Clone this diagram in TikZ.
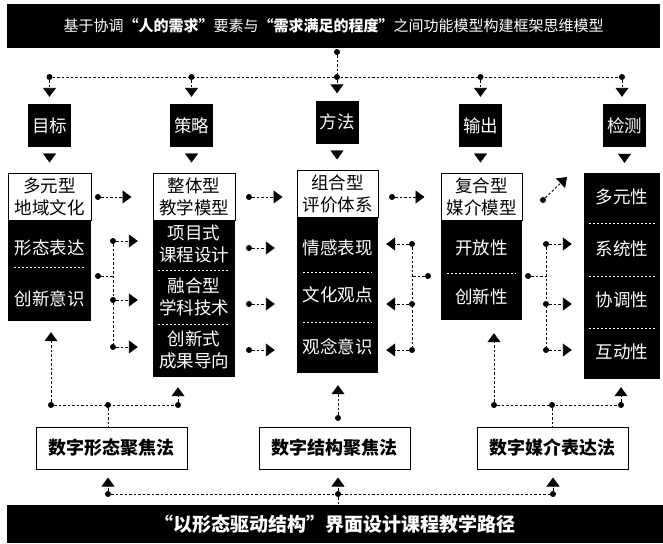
\documentclass[tikz,border=0pt]{standalone}
\usepackage{fontspec}
\newfontfamily\cjk{Noto Sans CJK SC}
\usetikzlibrary{arrows.meta}
\tikzset{
  link/.style={line width=0.9pt, dash pattern=on 2.5pt off 2pt},
  arr/.style={-{Triangle[width=13pt,length=9pt]}},
  jdot/.style={circle, fill=black, inner sep=0pt, minimum size=6pt},
  banner/.style={fill=black, text=white, inner sep=0pt},
  headbox/.style={fill=black, text=white, inner sep=0pt, minimum width=43pt, minimum height=43pt, font=\cjk\fontsize{17.5}{20}\selectfont},
  topbox/.style={draw=black, line width=1pt, fill=white, inner sep=0pt, align=center, minimum height=47pt, font=\cjk\fontsize{17.5}{22}\selectfont},
  blkbox/.style={fill=black, inner sep=0pt},
  celltext/.style={text=white, inner sep=0pt, align=center, font=\cjk\fontsize{17.5}{22}\selectfont},
  sepline/.style={white, line width=0.8pt, dash pattern=on 2pt off 2pt},
  methodbox/.style={draw=black, line width=1pt, fill=white, minimum width=151pt, minimum height=42pt, inner sep=0pt, font=\cjk\bfseries\fontsize{18}{22}\selectfont}
}
\begin{document}
\begin{tikzpicture}[x=1pt, y=-1pt]
  \useasboundingbox (0,0) rectangle (663,543);
  % Title banner
  \node[banner, minimum width=653pt, minimum height=44pt, font=\cjk\fontsize{15}{18}\selectfont] (top) at (333.5,26) {基于协调{\bfseries “人的需求”}要素与{\bfseries “需求满足的程度”}之间功能模型构建框架思维模型};
  \node[jdot] (t0) at (337,52) {};
  % Headers
  \node[headbox] (h1) at (49.5,125.5) {目标};
  \node[headbox] (h2) at (191.5,125.5) {策略};
  \node[headbox] (h3) at (337,122) {方法};
  \node[headbox] (h4) at (480.5,125.5) {输出};
  \node[headbox] (h5) at (624.5,125.5) {检测};
  \node[jdot] (t1) at (49.5,77) {};
  \node[jdot] (t2) at (191.5,77) {};
  \node[jdot] (t3) at (337,77) {};
  \node[jdot] (t4) at (480.5,77) {};
  \node[jdot] (t5) at (622,77) {};
  \draw[link] (t0) -- (t3);
  \draw[link] (t1) -- (t5);
  \foreach \i in {1,...,5}
    \draw[link, arr, shorten >=7pt] (t\i) -- (t\i |- h\i.north);
  % Column 1
  \node[topbox, minimum width=83pt] (k1) at (49.5,196.5) {多元型\\地域文化};
  \node[blkbox, minimum width=83pt, minimum height=101pt] (b1) at (49.5,270.5) {};
  \node[celltext] (b1a) at (49.5,248) {形态表达};
  \node[celltext] (b1b) at (49.5,299) {创新意识};
  \draw[sepline] (14,267) -- (85,267);
  % Column 2
  \node[topbox, minimum width=82pt] (k2) at (194,196.5) {整体型\\教学模型};
  \node[blkbox, minimum width=82pt, minimum height=157pt] (b2) at (194,298.5) {};
  \node[celltext] (b2a) at (194,244) {项目式\\课程设计};
  \node[celltext] (b2b) at (194,297) {融合型\\学科技术};
  \node[celltext] (b2c) at (194,350) {创新式\\成果导向};
  \draw[sepline] (158,270) -- (230,270);
  \draw[sepline] (158,324) -- (230,324);
  % Column 3
  \node[topbox, minimum width=81pt] (k3) at (337.5,193.5) {组合型\\评价体系};
  \node[blkbox, minimum width=81pt, minimum height=156pt] (b3) at (337.5,295) {};
  \node[celltext] (b3a) at (337.5,248) {情感表现};
  \node[celltext] (b3b) at (337.5,295) {文化观点};
  \node[celltext] (b3c) at (337.5,347) {观念意识};
  \draw[sepline] (303,272) -- (372,272);
  \draw[sepline] (303,322) -- (372,322);
  % Column 4
  \node[topbox, minimum width=81pt] (k4) at (481.5,196.5) {复合型\\媒介模型};
  \node[blkbox, minimum width=81pt, minimum height=100pt] (b4) at (481.5,270) {};
  \node[celltext] (b4a) at (481.5,248) {开放性};
  \node[celltext] (b4b) at (481.5,297) {创新性};
  \draw[sepline] (447,273) -- (516,273);
  % Column 5
  \node[blkbox, minimum width=76pt, minimum height=206pt] (b5) at (622,276) {};
  \node[celltext] (b5a) at (622,197) {多元性};
  \node[celltext] (b5b) at (622,249) {系统性};
  \node[celltext] (b5c) at (622,300) {协调性};
  \node[celltext] (b5d) at (622,352) {互动性};
  \draw[sepline] (589,223) -- (656,223);
  \draw[sepline] (589,276) -- (656,276);
  \draw[sepline] (589,328) -- (656,328);
  % Header to column
  \draw[arr, shorten <=8pt, shorten >=10pt] (h1) -- (h1.south |- k1.north);
  \draw[arr, shorten <=8pt, shorten >=10pt] (h2) -- (h2.south |- k2.north);
  \draw[arr, shorten <=8pt, shorten >=10pt] (h3) -- (h3.south |- k3.north);
  \draw[arr, shorten <=8pt, shorten >=10pt] (h4) -- (h4.south |- k4.north);
  \draw[arr, shorten <=8pt, shorten >=10pt] (h5) -- (h5.south |- b5.north);
  % Column 1 to column 2
  \node[jdot] (r1) at (98,197) {};
  \draw[link, arr, shorten >=21pt] (r1) -- (r1 -| k2.west);
  \node[jdot] (r2) at (98,276) {};
  \coordinate (j1) at (113,276);
  \node[jdot] (s1) at (113,241) {};
  \node[jdot] (s2) at (113,300) {};
  \node[jdot] (s3) at (113,347) {};
  \draw[link] (r2) -- (j1);
  \draw[link] (s1) -- (s3);
  \foreach \n in {s1,s2,s3}
    \draw[link, arr, shorten >=15pt] (\n) -- (\n -| b2.west);
  % Column 2 to column 3
  \node[jdot] (u0) at (249,197) {};
  \node[jdot] (u1) at (249,248) {};
  \node[jdot] (u2) at (249,304) {};
  \node[jdot] (u3) at (249,350) {};
  \draw[link, arr, shorten >=14pt] (u0) -- (u0 -| k3.west);
  \foreach \n in {u1,u2,u3}
    \draw[link, arr, shorten >=22pt] (\n) -- (\n -| b3.west);
  % Column 3 to column 4
  \node[jdot] (v0) at (392,197) {};
  \draw[link, arr, shorten >=16pt] (v0) -- (v0 -| k4.west);
  % Column 4 back to column 3
  \node[jdot] (w0) at (428,276) {};
  \coordinate (jw) at (412,276);
  \node[jdot] (w1) at (412,244) {};
  \node[jdot] (w2) at (412,304) {};
  \node[jdot] (w3) at (412,350) {};
  \draw[link] (w0) -- (jw);
  \draw[link] (w1) -- (w3);
  \foreach \n in {w1,w2,w3}
    \draw[link, arr, shorten >=8pt] (\n) -- (\n -| b3.east);
  % Column 4 to column 5
  \node[jdot] (x0) at (543,200) {};
  \coordinate (x0e) at (567,177);
  \draw[link, arr] (x0) -- (x0e);
  \node[jdot] (y0) at (528,276) {};
  \coordinate (jy) at (546,276);
  \node[jdot] (y1) at (546,244) {};
  \node[jdot] (y2) at (546,304) {};
  \node[jdot] (y3) at (546,350) {};
  \draw[link] (y0) -- (jy);
  \draw[link] (y1) -- (y3);
  \foreach \n in {y1,y2,y3}
    \draw[link, arr, shorten >=12pt] (\n) -- (\n -| b5.west);
  % Method boxes
  \node[methodbox] (f1) at (111.5,448) {数字形态聚焦法};
  \node[methodbox] (f2) at (334.5,448) {数字结构聚焦法};
  \node[methodbox] (f3) at (552.5,448) {数字媒介表达法};
  % Left group
  \node[jdot] (p1) at (51,405) {};
  \node[jdot] (p2) at (108,405) {};
  \node[jdot] (p3) at (178,405) {};
  \draw[link] (p1) -- (p3);
  \draw[link, arr, shorten >=11pt] (p1) -- (p1 |- b1.south);
  \draw[link, arr, shorten >=10pt] (p3) -- (p3 |- b2.south);
  \draw[link] (p2) -- (p2 |- f1.north);
  % Middle
  \node[jdot] (q1) at (338,418) {};
  \draw[link, arr, shorten >=12pt] (q1) -- (q1 |- b3.south);
  % Right group
  \node[jdot] (g1) at (494,405) {};
  \node[jdot] (g2) at (552,405) {};
  \node[jdot] (g3) at (621,405) {};
  \draw[link] (g1) -- (g3);
  \draw[link, arr, shorten >=13pt] (g1) -- (g1 |- b4.south);
  \draw[link, arr, shorten >=8pt] (g3) -- (g3 |- b5.south);
  \draw[link] (g2) -- (g2 |- f3.north);
  % Bottom banner
  \node[banner, minimum width=656pt, minimum height=38pt, font=\cjk\bfseries\fontsize{19}{22}\selectfont] (bot) at (335,524) {“以形态驱动结构”界面设计课程教学路径};
  \node[jdot] (m1) at (108,494) {};
  \node[jdot] (m2) at (338,494) {};
  \node[jdot] (m3) at (553,494) {};
  \draw[link] (m1) -- (m3);
  \draw[link] (m2) -- (m2 |- bot.north);
  \draw[link, arr, shorten >=8pt] (m1) -- (m1 |- f1.south);
  \draw[link, arr, shorten >=8pt] (m2) -- (m2 |- f2.south);
  \draw[link, arr, shorten >=8pt] (m3) -- (m3 |- f3.south);
\end{tikzpicture}
\end{document}
